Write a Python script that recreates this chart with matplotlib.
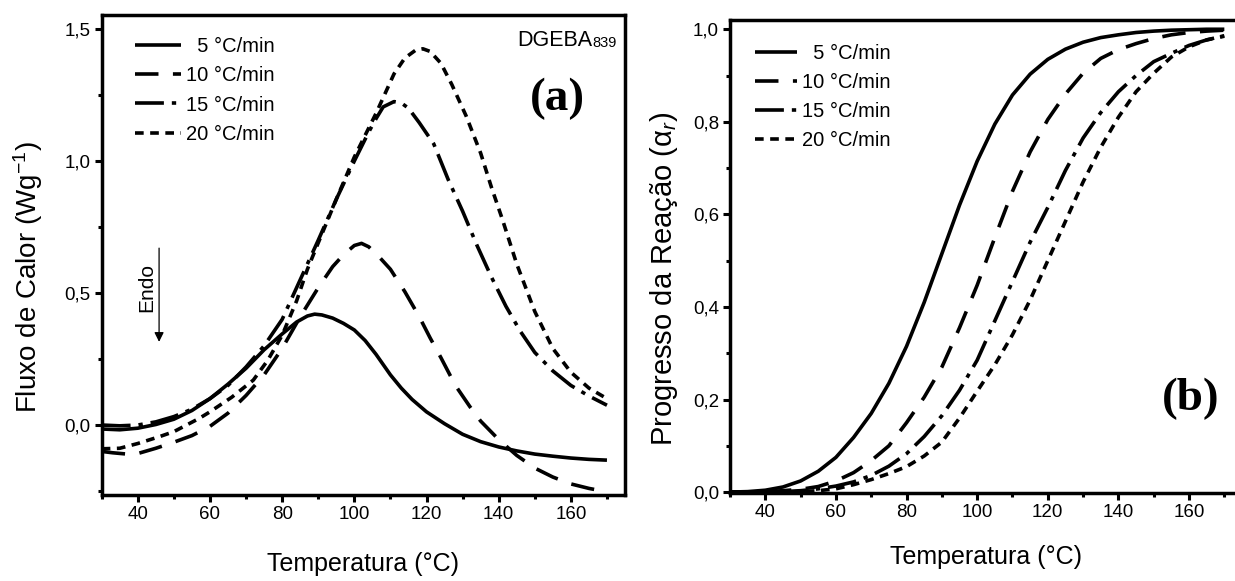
import matplotlib
matplotlib.use("Agg")
import matplotlib.pyplot as plt
from matplotlib import font_manager
from matplotlib.ticker import MultipleLocator, FuncFormatter

# --- DSC heat flow, DGEBA839 (panel a) ---
t_a5 = [30, 35, 40, 45, 50, 55, 60, 65, 70, 75, 80, 84, 87, 89, 91, 94, 97,
        100, 103, 106, 110, 113, 116, 120, 125, 130, 135, 140, 145, 150, 155,
        160, 165, 170]
q_a5 = [-0.015, -0.018, -0.012, 0.002, 0.022, 0.055, 0.10, 0.155, 0.215, 0.285,
        0.345, 0.39, 0.413, 0.42, 0.417, 0.405, 0.385, 0.36, 0.32, 0.268, 0.19,
        0.14, 0.097, 0.05, 0.005, -0.035, -0.063, -0.083, -0.098, -0.11,
        -0.118, -0.125, -0.13, -0.133]

t_a10 = [30, 33, 37, 40, 45, 50, 55, 60, 65, 70, 75, 80, 85, 90, 94, 97, 100,
         102, 104, 107, 110, 114, 118, 121, 124, 128, 132, 135, 140, 145, 150,
         155, 160, 165, 170]
q_a10 = [-0.10, -0.105, -0.11, -0.108, -0.088, -0.065, -0.04, -0.005, 0.045,
         0.112, 0.19, 0.29, 0.41, 0.52, 0.60, 0.645, 0.68, 0.688, 0.675, 0.635,
         0.59, 0.505, 0.41, 0.33, 0.255, 0.15, 0.07, 0.015, -0.055, -0.115,
         -0.163, -0.197, -0.223, -0.24, -0.253]

t_a15 = [30, 35, 40, 45, 50, 55, 60, 65, 70, 75, 80, 85, 90, 95, 100, 104, 106,
         108, 111, 113, 115, 118, 122, 126, 130, 134, 138, 142, 146, 150, 155,
         160, 165, 170]
q_a15 = [0.0, -0.003, 0.0, 0.012, 0.032, 0.06, 0.10, 0.15, 0.22, 0.30, 0.40,
         0.55, 0.70, 0.855, 1.0, 1.11, 1.16, 1.205, 1.225, 1.22, 1.2, 1.145,
         1.065, 0.93, 0.81, 0.68, 0.56, 0.45, 0.355, 0.275, 0.205, 0.15, 0.11,
         0.075]

t_a20 = [30, 35, 40, 46, 50, 57, 60, 66, 72, 76, 80, 84, 87, 90, 95, 100, 106,
         111, 114, 117, 119, 121, 124, 127, 131, 135, 138, 141, 145, 150, 155,
         160, 165, 170]
q_a20 = [-0.09, -0.088, -0.07, -0.044, -0.025, 0.025, 0.05, 0.105, 0.17, 0.245,
         0.34, 0.47, 0.59, 0.69, 0.855, 1.015, 1.18, 1.33, 1.39, 1.42, 1.425,
         1.415, 1.37, 1.29, 1.17, 1.03, 0.90, 0.78, 0.61, 0.43, 0.29, 0.20,
         0.14, 0.10]

# --- reaction progress (panel b) ---
t_b = [30, 35, 40, 45, 50, 55, 60, 65, 70, 75, 80, 85, 90, 95, 100, 105, 110,
       115, 120, 125, 130, 135, 140, 145, 150, 155, 160, 165, 170]
a_b5 = [0.0, 0.001, 0.004, 0.011, 0.024, 0.045, 0.075, 0.118, 0.17, 0.235,
        0.315, 0.41, 0.515, 0.62, 0.715, 0.795, 0.858, 0.903, 0.935, 0.957,
        0.972, 0.982, 0.988, 0.993, 0.996, 0.998, 0.999, 1.0, 1.0]
a_b10 = [0.0, 0.0, 0.001, 0.003, 0.006, 0.012, 0.024, 0.042, 0.068, 0.10,
         0.15, 0.205, 0.27, 0.355, 0.447, 0.55, 0.65, 0.735, 0.805, 0.86, 0.905,
         0.937, 0.956, 0.969, 0.98, 0.988, 0.993, 0.996, 0.998]
a_b15 = [0.0, 0.0, 0.0, 0.001, 0.003, 0.007, 0.013, 0.022, 0.036, 0.056, 0.083,
         0.12, 0.165, 0.22, 0.285, 0.37, 0.455, 0.54, 0.615, 0.695, 0.765, 0.82,
         0.865, 0.90, 0.93, 0.948, 0.965, 0.977, 0.985]
a_b20 = [0.0, 0.0, 0.0, 0.0, 0.001, 0.003, 0.007, 0.016, 0.027, 0.04, 0.055,
         0.078, 0.108, 0.16, 0.218, 0.275, 0.34, 0.415, 0.50, 0.585, 0.67,
         0.745, 0.81, 0.865, 0.905, 0.94, 0.962, 0.977, 0.986]

labels = ["  5 °C/min", "10 °C/min", "15 °C/min", "20 °C/min"]
dashes = [None, (6.5, 4.0), (8.0, 2.2, 1.2, 2.2), (2.4, 1.8)]

names = {f.name for f in font_manager.fontManager.ttflist}
narrow = "Liberation Sans Narrow" if "Liberation Sans Narrow" in names else "Liberation Sans"
plt.rcParams["font.family"] = [narrow, "DejaVu Sans"]
plt.rcParams["mathtext.fontset"] = "custom"
plt.rcParams["mathtext.rm"] = "Liberation Sans"
plt.rcParams["mathtext.it"] = "Liberation Sans:italic"

LW = 2.6


def comma(v, pos):
    return f"{v:.1f}".replace(".", ",")


def style_axes(ax):
    for sp in ax.spines.values():
        sp.set_linewidth(2.5)
    ax.tick_params(which="major", direction="out", length=5, width=2.2,
                   labelsize=13.5, pad=3)
    ax.tick_params(which="minor", direction="out", length=3, width=2.2)
    ax.tick_params(top=False, right=False, which="both")
    ax.xaxis.set_major_locator(MultipleLocator(20))
    ax.xaxis.set_minor_locator(MultipleLocator(10))
    ax.yaxis.set_major_formatter(FuncFormatter(comma))


def draw(ax, series):
    lines = []
    for (t, v), lab, d in zip(series, labels, dashes):
        ln, = ax.plot(t, v, color="black", lw=LW, label=lab,
                      solid_capstyle="butt", dash_capstyle="butt")
        if d is not None:
            ln.set_dashes(d)
        lines.append(ln)
    return lines


fig = plt.figure(figsize=(12.35, 5.81), dpi=100)
W, H = 1235, 581
ax1 = fig.add_axes([101.7 / W, 1 - 495 / H, (625 - 101.7) / W, (495 - 15) / H])
ax2 = fig.add_axes([730 / W, 1 - 493 / H, (1242 - 730) / W, (493 - 20) / H])

# panel (a)
draw(ax1, [(t_a5, q_a5), (t_a10, q_a10), (t_a15, q_a15), (t_a20, q_a20)])
ax1.set_xlim(30, 175)
ax1.set_ylim(-0.265, 1.553)
style_axes(ax1)
ax1.yaxis.set_major_locator(MultipleLocator(0.5))
ax1.yaxis.set_minor_locator(MultipleLocator(0.25))
ax1.set_xlabel("Temperatura (°C)", fontsize=18)
ax1.xaxis.set_label_coords(0.5, -0.118)
ax1.xaxis.label.set_va("top")
ax1.set_ylabel("Fluxo de Calor (Wg$^{-1}$)", fontsize=20, family="Liberation Sans")
ax1.yaxis.set_label_coords(-0.108, 0.453)
ax1.legend(loc="upper left", bbox_to_anchor=(0.064, 0.955), frameon=False,
           fontsize=14.5, handlelength=2.25, handletextpad=0.25,
           labelspacing=0.52, borderpad=0, borderaxespad=0)
dg = ax1.text(0.794, 0.935, "DGEBA", transform=ax1.transAxes, fontsize=15.5,
              va="baseline", ha="left")
ax1.annotate("839", xy=(1, 0), xycoords=dg, fontsize=10.5, va="bottom",
             ha="left", xytext=(0, 1), textcoords="offset points")
ax1.text(0.871, 0.826, "(a)", transform=ax1.transAxes, fontsize=34,
         family="Liberation Serif", weight="bold", ha="center", va="center")
ax1.annotate("", xy=(45.9, 0.315), xytext=(45.9, 0.67),
             arrowprops=dict(arrowstyle="-|>", color="black", lw=0.9,
                             mutation_scale=14, shrinkA=0, shrinkB=0))
ax1.text(42.6, 0.52, "Endo", rotation=90, fontsize=15, family="Liberation Sans",
         ha="center", va="center")

# panel (b)
draw(ax2, [(t_b, a_b5), (t_b, a_b10), (t_b, a_b15), (t_b, a_b20)])
ax2.set_xlim(30, 175)
ax2.set_ylim(-0.002, 1.02)
style_axes(ax2)
ax2.yaxis.set_major_locator(MultipleLocator(0.2))
ax2.yaxis.set_minor_locator(MultipleLocator(0.1))
ax2.set_xlabel("Temperatura (°C)", fontsize=18)
ax2.xaxis.set_label_coords(0.5, -0.11)
ax2.xaxis.label.set_va("top")
ax2.set_ylabel("Progresso da Reação (α$_r$)", fontsize=21,
               family="Liberation Sans")
ax2.yaxis.set_label_coords(-0.097, 0.4535)
ax2.legend(loc="upper left", bbox_to_anchor=(0.049, 0.949), frameon=False,
           fontsize=14.5, handlelength=2.1, handletextpad=0.25,
           labelspacing=0.5, borderpad=0, borderaxespad=0)
ax2.text(0.899, 0.2, "(b)", transform=ax2.transAxes, fontsize=34,
         family="Liberation Serif", weight="bold", ha="center", va="center")

fig.savefig("out.png", dpi=100)
